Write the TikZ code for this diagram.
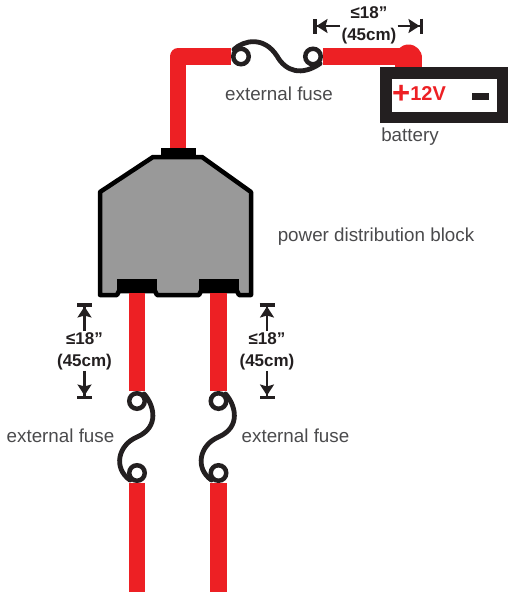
\documentclass[tikz,border=0pt]{standalone}
\usepackage{fontspec}
\setmainfont{Liberation Sans}
\usetikzlibrary{arrows.meta}
\definecolor{wirered}{HTML}{ED2024}
\definecolor{inkblack}{HTML}{231F20}
\definecolor{labelgrey}{HTML}{4A4A4C}
\definecolor{blockgrey}{HTML}{999999}
\begin{document}
\begin{tikzpicture}[x=1pt, y=-1pt,
    wire/.style={draw=wirered, line width=16.5pt},
    ring/.style={circle, draw=inkblack, fill=white, line width=4.5pt, minimum size=15.5pt, inner sep=0pt},
    fusewire/.style={draw=inkblack, line width=4.8pt, line cap=round},
    term/.style={fill=black, inner sep=0pt},
    dimline/.style={draw=inkblack, line width=2.3pt, -{Stealth[length=11pt,width=14pt,inset=2pt]Bar[width=15pt,line width=3.5pt]}},
    dimtext/.style={font=\fontsize{17}{22}\selectfont\bfseries, text=inkblack, align=center, inner sep=1pt},
    lbl/.style={font=\fontsize{18.8}{22}\selectfont, text=labelgrey, inner sep=0pt}]
  \useasboundingbox (0,0) rectangle (513,592);
  % block with its three terminals
  \draw[fill=blockgrey, line width=4.5pt, line join=round] (100,192)--(153,157)--(202,157)--(251,192)--(251,295)--(239,295)--(237,291)--(201,291)--(199,295)--(157,295)--(155,291)--(119,291)--(117,295)--(100,295)--cycle;
  \node[term, minimum width=35pt, minimum height=11pt] (termT) at (178,153.5) {};
  \node[term, minimum width=40pt, minimum height=14pt] (termL) at (137,286) {};
  \node[term, minimum width=40pt, minimum height=14pt] (termR) at (218.5,286) {};
  % fuse rings
  \node[ring] (ringA) at (241,56.5) {};
  \node[ring] (ringB) at (313,56.5) {};
  \node[ring] (ringLa) at (137,401) {};
  \node[ring] (ringLb) at (137,473) {};
  \node[ring] (ringRa) at (218.5,401) {};
  \node[ring] (ringRb) at (218.5,473) {};
  \coordinate (endL) at (137,592);
  \coordinate (endR) at (218.5,592);
  % battery
  \node[circle, fill=wirered, minimum size=27pt, inner sep=0pt] (post) at (408.5,58) {};
  \fill[wirered] (post.west) rectangle (422,70);
  \node[draw=inkblack, fill=white, line width=11.5pt, minimum width=116.5pt, minimum height=44.5pt, inner sep=0pt] (batt) at (444,95) {};
  \node[font=\fontsize{20}{22}\selectfont\bfseries, text=wirered, inner sep=0pt] (volt) at (419,94) {\raisebox{-3pt}{\fontsize{31}{22}\selectfont +}12V};
  \node[fill=inkblack, minimum width=17pt, minimum height=7pt, inner sep=0pt] (minus) at (480.5,96.5) {};
  % wires
  \draw[wire, line join=round] (termT.north) |- (ringA.west);
  \draw[wire] (ringB.east) -- (ringB.east -| post.center);
  \draw[wire] (termL.south) -- (ringLa.north);
  \draw[wire] (termR.south) -- (ringRa.north);
  \draw[wire] (ringLb.south) -- (endL);
  \draw[wire] (ringRb.south) -- (endR);
  % fuse links
  \draw[fusewire] (ringA.north west) .. controls (244,40) and (264,36) .. (277,56) .. controls (286,72) and (302,76) .. (ringB.south east);
  \draw[fusewire] (ringLa.north east) .. controls (154,405) and (160,427) .. (137,437) .. controls (118,445) and (113,468) .. (ringLb.south west);
  \draw[fusewire] (ringRa.north east) .. controls (235.5,405) and (241.5,427) .. (218.5,437) .. controls (199.5,445) and (194.5,468) .. (ringRb.south west);
  % lengths
  \node[dimtext] (dimT) at (369,25) {≤18”\\(45cm)};
  \node[dimtext] (dimL) at (84.5,351) {≤18”\\(45cm)};
  \node[dimtext] (dimR) at (267,351) {≤18”\\(45cm)};
  \coordinate (dimTa) at (313,26);
  \coordinate (dimTb) at (423,26);
  \coordinate (dimLa) at (84.5,303);
  \coordinate (dimLb) at (84.5,399);
  \coordinate (dimRa) at (267,303);
  \coordinate (dimRb) at (267,399);
  \draw[dimline] (dimT.west |- dimTa) -- (dimTa);
  \draw[dimline] (dimT.east |- dimTb) -- (dimTb);
  \draw[dimline] (dimL.north) -- (dimLa);
  \draw[dimline] (dimL.south) -- (dimLb);
  \draw[dimline] (dimR.north) -- (dimRa);
  \draw[dimline] (dimR.south) -- (dimRb);
  % labels
  \node[lbl] (fuseT) at (279,94) {external fuse};
  \node[lbl] (fuseL) at (60.5,436) {external fuse};
  \node[lbl] (fuseR) at (295.5,436) {external fuse};
  \node[lbl] (battLbl) at (410,137) {battery};
  \node[lbl] (blockLbl) at (376,237) {power distribution block};
\end{tikzpicture}
\end{document}
